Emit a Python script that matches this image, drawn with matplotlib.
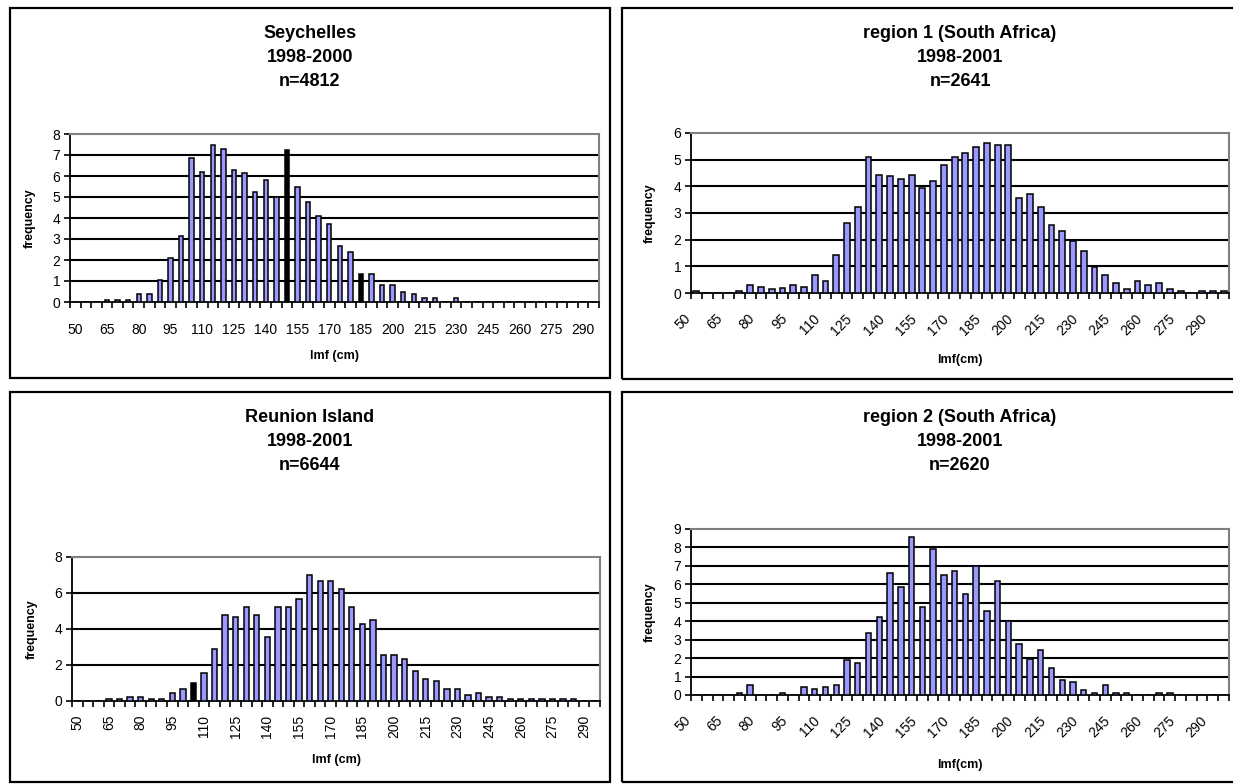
import numpy as np
import matplotlib
matplotlib.use("Agg")
import matplotlib.pyplot as plt
from matplotlib.patches import Rectangle
from matplotlib.transforms import ScaledTranslation

plt.rcParams['font.family'] = ['Liberation Sans', 'DejaVu Sans']

# length classes (cm), one bar per 5 cm
classes = list(range(50, 300, 5))
tick_labels = [str(c) for c in classes[::3]]

# frequencies (%)
seychelles = [0, 0, 0, 0.1, 0.1, 0.1, 0.4, 0.4, 1.05, 2.1, 3.15, 6.85, 6.2, 7.5, 7.3,
              6.3, 6.15, 5.25, 5.8, 5.0, 7.25, 5.5, 4.75, 4.1, 3.7, 2.65, 2.4, 1.35,
              1.35, 0.8, 0.8, 0.5, 0.4, 0.2, 0.2, 0.02, 0.2, 0, 0, 0, 0, 0, 0, 0, 0,
              0, 0, 0, 0, 0]
region1 = [0.07, 0, 0, 0, 0.07, 0.31, 0.24, 0.16, 0.17, 0.3, 0.22, 0.69, 0.45, 1.43,
           2.63, 3.24, 5.1, 4.43, 4.38, 4.28, 4.44, 3.92, 4.21, 4.81, 5.1, 5.26, 5.49,
           5.63, 5.56, 5.55, 3.55, 3.7, 3.24, 2.56, 2.33, 1.96, 1.58, 0.96, 0.66, 0.38,
           0.16, 0.45, 0.3, 0.36, 0.16, 0.07, 0, 0.07, 0.08, 0.08]
reunion = [0, 0, 0, 0.11, 0.11, 0.22, 0.22, 0.11, 0.11, 0.46, 0.67, 1.02, 1.57, 2.9,
           4.76, 4.69, 5.22, 4.76, 3.57, 5.22, 5.22, 5.69, 7.02, 6.69, 6.69, 6.24, 5.22,
           4.26, 4.48, 2.57, 2.57, 2.35, 1.69, 1.24, 1.13, 0.69, 0.69, 0.35, 0.46, 0.24,
           0.24, 0.11, 0.11, 0.11, 0.11, 0.11, 0.11, 0.11, 0, 0]
region2 = [0, 0, 0, 0, 0.1, 0.56, 0, 0, 0.1, 0, 0.43, 0.31, 0.43, 0.56, 1.92, 1.74,
           3.37, 4.24, 6.63, 5.87, 8.59, 4.78, 7.93, 6.5, 6.74, 5.5, 7.0, 4.53, 6.16,
           4.0, 2.79, 1.95, 2.46, 1.49, 0.82, 0.72, 0.29, 0.09, 0.53, 0.09, 0.09, 0, 0,
           0.09, 0.09, 0, 0, 0, 0, 0]

W, H = 1233, 784
fig = plt.figure(figsize=(W / 100, H / 100), dpi=100)


def px_rect(l, t, r, b):
    return [l / W, 1 - b / H, (r - l) / W, (b - t) / H]


def frame(l, t, r, b):
    fig.patches.append(Rectangle((l / W, 1 - b / H), (r - l) / W, (b - t) / H,
                                 transform=fig.transFigure, fill=False,
                                 edgecolor='black', lw=1.6))


def panel(rect, vals, ymax, ystep, title, title_xy, xlabel, xlabel_xy, ylab_x,
          rot, barw, dark=()):
    ax = fig.add_axes(px_rect(*rect))
    x = np.arange(len(vals))
    cols = ['black' if i in dark else '#9999ff' for i in x]
    ax.bar(x, vals, width=barw, color=cols, edgecolor='black', lw=1.1, zorder=3)
    ax.set_xlim(-0.5, len(vals) - 0.5)
    ax.set_ylim(0, ymax)
    yt = list(range(0, ymax + 1, ystep))
    ax.set_yticks(yt)
    ax.set_yticklabels([str(v) for v in yt], fontsize=10)
    for v in yt[1:-1]:
        ax.axhline(v, color='black', lw=1.5, zorder=1)
    for s in ['top', 'right']:
        ax.spines[s].set_color('#808080')
        ax.spines[s].set_linewidth(1.5)
    for s in ['left', 'bottom']:
        ax.spines[s].set_linewidth(1.3)
    ax.set_xticks(np.arange(-0.5, len(vals), 1))
    ax.set_xticklabels([])
    ax.set_xticks(x[::3], minor=True)
    if rot == 0:
        ax.set_xticklabels(tick_labels, minor=True, fontsize=10)
        ax.tick_params(axis='x', which='minor', length=0, pad=15)
    elif rot == 90:
        ax.set_xticklabels(tick_labels, minor=True, fontsize=10, rotation=90)
        ax.tick_params(axis='x', which='minor', length=0, pad=10)
    else:
        ax.set_xticklabels(tick_labels, minor=True, fontsize=10, rotation=45,
                           ha='right', va='center', rotation_mode='anchor')
        ax.tick_params(axis='x', which='minor', length=0, pad=17)
        shift = ScaledTranslation(-8 / 100, 0, fig.dpi_scale_trans)
        for lab in ax.get_xticklabels(minor=True):
            lab.set_transform(lab.get_transform() + shift)
    ax.tick_params(axis='x', which='major', length=4, width=1.2, direction='out')
    ax.tick_params(axis='y', length=4, width=1.2, pad=3)
    tx, ty = title_xy
    for i, line in enumerate(title):
        fig.text(tx / W, 1 - (ty + 24 * i) / H, line, ha='center', va='center',
                 fontsize=13, fontweight='bold')
    fig.text(xlabel_xy[0] / W, 1 - xlabel_xy[1] / H, xlabel, ha='center',
             va='center', fontsize=9, fontweight='bold')
    cy = (rect[1] + rect[3]) / 2
    fig.text(ylab_x / W, 1 - cy / H, 'frequency', ha='center', va='center',
             rotation=90, fontsize=9, fontweight='bold')
    return ax


frame(10, 8, 610, 378)
frame(622, 8, 1260, 379)
frame(10, 392, 610, 782)
frame(622, 392, 1260, 782)

panel((70, 134, 599, 302), seychelles, 8, 1,
      ['Seychelles', '1998-2000', 'n=4812'], (310, 33),
      'lmf (cm)', (334, 356), 30, 0, 0.42, dark=(20, 27))
panel((691, 133, 1229, 293), region1, 6, 1,
      ['region 1 (South Africa)', '1998-2001', 'n=2641'], (960, 33),
      'lmf(cm)', (960, 360), 650, 45, 0.55)
panel((72, 557, 600, 701), reunion, 8, 2,
      ['Reunion Island', '1998-2001', 'n=6644'], (310, 417),
      'lmf (cm)', (336, 760), 32, 90, 0.5, dark=(11,))
panel((691, 529, 1229, 695), region2, 9, 1,
      ['region 2 (South Africa)', '1998-2001', 'n=2620'], (960, 417),
      'lmf(cm)', (960, 765), 650, 45, 0.5)

fig.savefig('out.png', dpi=100)
